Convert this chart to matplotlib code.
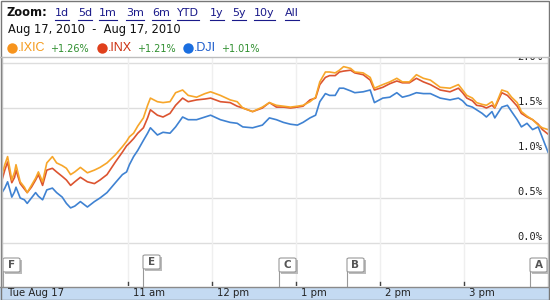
import matplotlib
matplotlib.use("Agg")
import matplotlib.pyplot as plt
from matplotlib.patches import Rectangle, FancyBboxPatch
from matplotlib.lines import Line2D

# ---- data: minutes after 9:30 am, percent change ----
minutes = [0, 2, 4, 6, 7, 9, 10, 13, 16, 18, 21, 24, 26, 29, 32, 36, 39, 43, 46, 49,
           52, 56, 61, 66, 70, 75, 81, 86, 89, 91, 94, 97, 101, 104, 106, 111, 115, 120, 124, 129,
           133, 139, 145, 149, 156, 163, 168, 172, 179, 186, 191, 196, 201, 206, 211, 215, 220, 224, 227, 231,
           234, 238, 241, 244, 249, 252, 258, 263, 266, 272, 277, 282, 286, 291, 296, 301, 306, 313, 320, 326,
           329, 332, 336, 339, 343, 346, 350, 352, 357, 361, 364, 368, 371, 375, 379, 383, 386, 390]
ixic = [0.76, 0.87, 0.96, 0.79, 0.70, 0.79, 0.87, 0.68, 0.62, 0.56, 0.64, 0.72, 0.79, 0.68, 0.89, 0.96, 0.89, 0.86, 0.83, 0.76,
        0.79, 0.84, 0.78, 0.81, 0.84, 0.89, 0.98, 1.07, 1.13, 1.18, 1.22, 1.30, 1.39, 1.53, 1.61, 1.57, 1.56, 1.57, 1.67, 1.70,
        1.64, 1.62, 1.66, 1.68, 1.64, 1.59, 1.57, 1.50, 1.46, 1.51, 1.56, 1.53, 1.52, 1.51, 1.52, 1.53, 1.57, 1.62, 1.79, 1.90,
        1.90, 1.89, 1.92, 1.96, 1.94, 1.90, 1.89, 1.84, 1.72, 1.76, 1.79, 1.83, 1.79, 1.79, 1.87, 1.83, 1.81, 1.73, 1.72, 1.76,
        1.70, 1.64, 1.61, 1.56, 1.54, 1.53, 1.57, 1.51, 1.70, 1.68, 1.62, 1.56, 1.46, 1.41, 1.37, 1.31, 1.28, 1.26]
inx = [0.70, 0.81, 0.90, 0.74, 0.67, 0.73, 0.81, 0.66, 0.60, 0.56, 0.62, 0.70, 0.76, 0.64, 0.81, 0.83, 0.79, 0.74, 0.70, 0.64,
       0.68, 0.73, 0.68, 0.66, 0.70, 0.76, 0.90, 1.01, 1.08, 1.11, 1.16, 1.22, 1.28, 1.39, 1.48, 1.42, 1.40, 1.44, 1.53, 1.61,
       1.57, 1.59, 1.60, 1.61, 1.57, 1.56, 1.52, 1.50, 1.46, 1.50, 1.56, 1.51, 1.51, 1.50, 1.51, 1.52, 1.59, 1.61, 1.76, 1.84,
       1.86, 1.86, 1.90, 1.91, 1.92, 1.89, 1.87, 1.81, 1.70, 1.73, 1.77, 1.80, 1.78, 1.78, 1.83, 1.79, 1.76, 1.70, 1.68, 1.72,
       1.67, 1.61, 1.58, 1.53, 1.52, 1.50, 1.53, 1.50, 1.67, 1.64, 1.59, 1.52, 1.44, 1.40, 1.37, 1.32, 1.26, 1.21]
dji = [0.56, 0.61, 0.68, 0.57, 0.51, 0.57, 0.62, 0.50, 0.48, 0.44, 0.50, 0.56, 0.52, 0.48, 0.59, 0.61, 0.56, 0.51, 0.44, 0.39,
       0.41, 0.46, 0.40, 0.46, 0.50, 0.56, 0.67, 0.76, 0.79, 0.87, 0.96, 1.03, 1.14, 1.22, 1.28, 1.20, 1.23, 1.22, 1.29, 1.40,
       1.37, 1.37, 1.40, 1.42, 1.37, 1.34, 1.33, 1.29, 1.28, 1.31, 1.39, 1.37, 1.34, 1.32, 1.31, 1.34, 1.39, 1.42, 1.57, 1.66,
       1.64, 1.64, 1.72, 1.72, 1.69, 1.67, 1.68, 1.70, 1.56, 1.61, 1.62, 1.67, 1.62, 1.64, 1.67, 1.66, 1.66, 1.61, 1.59, 1.61,
       1.58, 1.53, 1.51, 1.48, 1.44, 1.40, 1.46, 1.39, 1.51, 1.53, 1.46, 1.37, 1.29, 1.33, 1.26, 1.29, 1.17, 1.01]

symbols = [".IXIC", ".INX", ".DJI"]
changes = ["+1.26%", "+1.21%", "+1.01%"]
y_ticks = [0.0, 0.5, 1.0, 1.5, 2.0]
hour_ticks = [90, 150, 210, 270, 330]
hour_labels = ["11 am", "12 pm", "1 pm", "2 pm", "3 pm"]
zoom_links = ["1d", "5d", "1m", "3m", "6m", "YTD", "1y", "5y", "10y", "All"]
date_range = "Aug 17, 2010  -  Aug 17, 2010"
flag_letters = ["F", "E", "C", "B", "A"]

W, H = 550, 300
fig = plt.figure(figsize=(W / 100, H / 100), dpi=100)
fig.patch.set_facecolor("white")

def fx(px):
    return px / W

def fy(py):
    return 1 - py / H

# ---- main axes ----
ax_l, ax_r, ax_t, ax_b = 2, 548, 57, 286
ax = fig.add_axes([fx(ax_l), fy(ax_b), fx(ax_r - ax_l), (ax_b - ax_t) / H])
ax.set_xlim(0, 390)
ax.set_ylim((243 - ax_b) / 90, (243 - ax_t) / 90)
for s in ["top", "bottom", "left", "right"]:
    ax.spines[s].set_visible(False)
ax.set_xticks([])
ax.set_yticks([])
for v in y_ticks:
    ax.axhline(v, color="#dddddd", lw=1, zorder=1)
for m in hour_ticks:
    ax.axvline(m, color="#efefef", lw=1, zorder=1)
    ax.plot([m, m], [(243 - 282) / 90, (243 - 286) / 90], color="#444444", lw=1, zorder=2)

line_colors = {"ixic": "#f7a62a", "inx": "#dc5430", "dji": "#3f82d2"}
ax.plot(minutes, dji, color=line_colors["dji"], lw=1.2, zorder=3)
ax.plot(minutes, inx, color=line_colors["inx"], lw=1.2, zorder=3)
ax.plot(minutes, ixic, color=line_colors["ixic"], lw=1.2, zorder=3)

for v in y_ticks:
    ax.text(386, v + 0.012, f"{v:.1f}%", ha="right", va="bottom", fontsize=7.5,
            color="#222222", family="DejaVu Sans Mono", zorder=4, clip_on=True)

# flags
flag_px = [(3, 258), (143, 255), (279, 258), (347, 258), (530, 258)]
for letter, (px, py) in zip(flag_letters, flag_px):
    fig.add_artist(Line2D([fx(px), fx(px)], [fy(py + 14), fy(286)], color="#999999", lw=0.8))
    fig.add_artist(Rectangle((fx(px + 1.5), fy(py + 15.5)), fx(17), 14 / H, facecolor="#bbbbbb",
                             edgecolor="none"))
    fig.add_artist(FancyBboxPatch((fx(px), fy(py + 14)), fx(17), 14 / H,
                                  boxstyle="round,pad=0,rounding_size=0.004",
                                  facecolor="white", edgecolor="#999999", lw=0.8))
    fig.text(fx(px + 8.5), fy(py + 7), letter, ha="center", va="center", fontsize=7.5,
             fontweight="bold", color="#555555")

# frame lines
fig.add_artist(Line2D([fx(0), fx(W)], [fy(57), fy(57)], color="#bdbdbd", lw=1))
fig.add_artist(Line2D([fx(2), fx(2)], [fy(57), fy(287)], color="#bdbdbd", lw=1))
fig.add_artist(Line2D([fx(548), fx(548)], [fy(57), fy(287)], color="#bdbdbd", lw=1))

# bottom band
fig.add_artist(Rectangle((0, 0), 1, 13 / H, facecolor="#c4daf2", edgecolor="none"))
fig.add_artist(Line2D([0, 1], [fy(287), fy(287)], color="#8a8a8a", lw=1))
fig.text(fx(8), fy(293.5), "Tue Aug 17", ha="left", va="center", fontsize=7.3, color="#222222")
for m, lab in zip(hour_ticks, hour_labels):
    px = 2 + m * 546 / 390
    fig.text(fx(px + 5), fy(293.5), lab, ha="left", va="center", fontsize=7.3, color="#222222")

# header
fig.text(fx(6), fy(13), "Zoom:", ha="left", va="center", fontsize=8.3, fontweight="bold", color="#111111")
link_x = [55, 78, 99, 126, 152, 177, 210, 232, 254, 285]
link_texts = []
for lab, px in zip(zoom_links, link_x):
    t = fig.text(fx(px), fy(13), lab, ha="left", va="center", fontsize=8, color="#1a1a8a")
    link_texts.append(t)
fig.text(fx(8), fy(30), date_range, ha="left", va="center", fontsize=8.3, color="#111111")

circle_colors = ["#f7941d", "#e0401c", "#1a6ee0"]
sym_colors = ["#f59a1a", "#cc3010", "#1c5ccc"]
sym_x = [18, 108, 194]
pct_x = [50, 137, 221]
circ_x = [12, 102, 188]
for sx, px, cx, sym, pc, cc, sc in zip(sym_x, pct_x, circ_x, symbols, changes, circle_colors, sym_colors):
    fig.add_artist(Line2D([fx(cx)], [fy(48)], marker="o", markersize=7.5, color=cc,
                          markeredgewidth=0, linestyle="none"))
    fig.text(fx(sx), fy(48), sym, ha="left", va="center", fontsize=9, color=sc,
             family="Liberation Sans")
    fig.text(fx(px), fy(48.5), pc, ha="left", va="center", fontsize=7, color="#2f8f2f")

# underline links
fig.canvas.draw()
renderer = fig.canvas.get_renderer()
for t in link_texts:
    bb = t.get_window_extent(renderer)
    x0, x1 = bb.x0 / W, bb.x1 / W
    fig.add_artist(Line2D([x0, x1], [fy(19.5), fy(19.5)], color="#1a1a8a", lw=0.8))

# outer border
fig.add_artist(Rectangle((0.001, 0.001), 0.998, 0.997, facecolor="none", edgecolor="#777777", lw=1,
                         transform=fig.transFigure))

fig.savefig("out.png", dpi=100)
